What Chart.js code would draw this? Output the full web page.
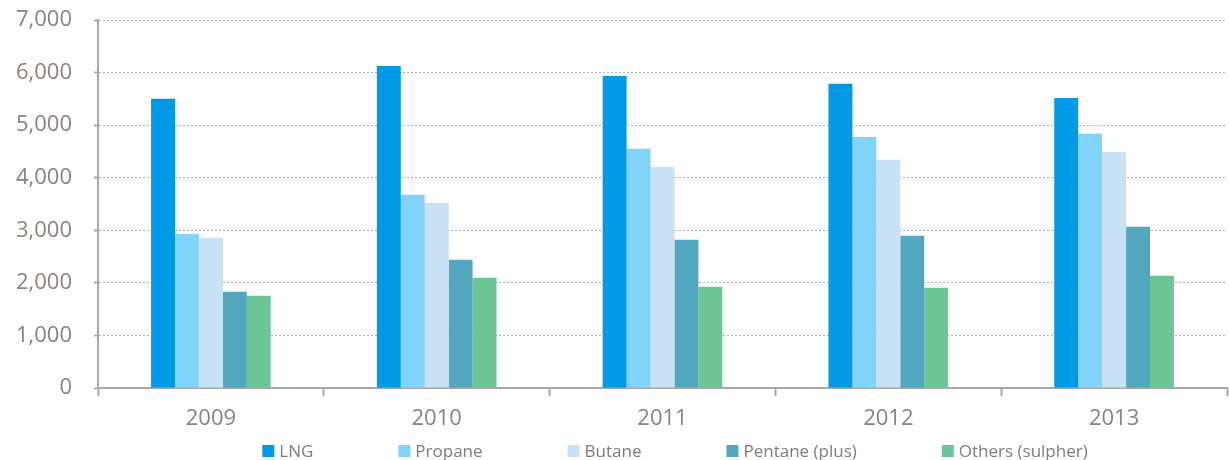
<!DOCTYPE html>
<html>
<head>
<meta charset="utf-8">
<style>
  html, body { margin: 0; padding: 0; background: #ffffff; }
  #wrap { width: 1229px; height: 460px; position: relative; }
</style>
<script src="https://cdn.jsdelivr.net/npm/chart.js@4.4.1/dist/chart.umd.min.js"></script>
</head>
<body>
<div id="wrap"><canvas id="c" width="1229" height="460"></canvas></div>
<script>
const years = ['2009', '2010', '2011', '2012', '2013'];
const seriesNames = ['LNG', 'Propane', 'Butane', 'Pentane (plus)', 'Others (sulpher)'];
const lng     = [5500, 6125, 5935, 5785, 5515];
const propane = [2930, 3675, 4550, 4775, 4835];
const butane  = [2855, 3520, 4205, 4340, 4490];
const pentane = [1830, 2440, 2820, 2895, 3065];
const others  = [1755, 2095, 1925, 1905, 2135];
const yTicks  = [0, 1000, 2000, 3000, 4000, 5000, 6000, 7000];

const colors = ['#0099e5', '#81d3f8', '#c7e2f5', '#50a7be', '#6cc594'];
const values = [lng, propane, butane, pentane, others];

const FONT = "'Open Sans', 'Liberation Sans', sans-serif";
const TICK_COLOR = '#8b827a';
const AXIS_COLOR = '#a8a8a8';

const customLegend = {
  id: 'customLegend',
  afterDraw(chart) {
    const ctx = chart.ctx;
    ctx.save();
    ctx.font = "17px " + FONT;
    const box = 12, gap = 5, pad = 85;
    const items = chart.data.datasets.map(ds => ({
      label: ds.label, color: ds.backgroundColor,
      w: box + gap + ctx.measureText(ds.label).width
    }));
    const total = items.reduce((s, it) => s + it.w, 0) + pad * (items.length - 1);
    let x = 675 - total / 2;
    const yc = 451;
    ctx.textBaseline = 'middle';
    ctx.textAlign = 'left';
    items.forEach(it => {
      ctx.fillStyle = it.color;
      ctx.fillRect(x, yc - box / 2, box, box);
      ctx.fillStyle = '#7d7d7d';
      ctx.fillText(it.label, x + box + gap, yc + 1);
      x += it.w + pad;
    });
    ctx.restore();
  }
};

new Chart(document.getElementById('c'), {
  type: 'bar',
  data: {
    labels: years,
    datasets: seriesNames.map((name, i) => ({
      label: name,
      data: values[i],
      backgroundColor: colors[i],
      borderWidth: 0,
      barPercentage: 1.0,
      categoryPercentage: 0.53
    }))
  },
  options: {
    responsive: false,
    maintainAspectRatio: false,
    animation: false,
    devicePixelRatio: 1,
    layout: { padding: { top: 20, right: 2, bottom: 32, left: 0 }, autoPadding: false },
    plugins: {
      legend: { display: false },
      title: { display: false },
      tooltip: { enabled: false }
    },
    scales: {
      x: {
        offset: true,
        grid: {
          offset: true,
          drawOnChartArea: false,
          drawTicks: true,
          tickLength: 8,
          tickColor: AXIS_COLOR,
          tickWidth: 2
        },
        border: { display: true, color: AXIS_COLOR, width: 2 },
        ticks: {
          color: TICK_COLOR,
          font: { family: FONT, size: 22 },
          padding: 10,
          maxRotation: 0
        },
        afterFit(scale) { scale.height = 40; scale.paddingLeft = 0; scale.paddingRight = 0; }
      },
      y: {
        min: 0,
        max: 7000,
        afterBuildTicks(scale) { scale.ticks = yTicks.map(v => ({ value: v })); },
        grid: {
          color: '#b0b0b0',
          lineWidth: 1,
          drawTicks: true,
          tickLength: 4,
          tickColor: AXIS_COLOR,
          tickBorderDash: [],
          tickWidth: 2
        },
        border: { display: true, color: AXIS_COLOR, width: 2, dash: [2, 2] },
        ticks: {
          color: TICK_COLOR,
          font: { family: FONT, size: 22 },
          padding: 22,
          callback: v => Number(v).toLocaleString('en-US')
        },
        afterFit(scale) { scale.width = 98; scale.paddingTop = 0; scale.paddingBottom = 0; }
      }
    }
  },
  plugins: [customLegend]
});
</script>
</body>
</html>
